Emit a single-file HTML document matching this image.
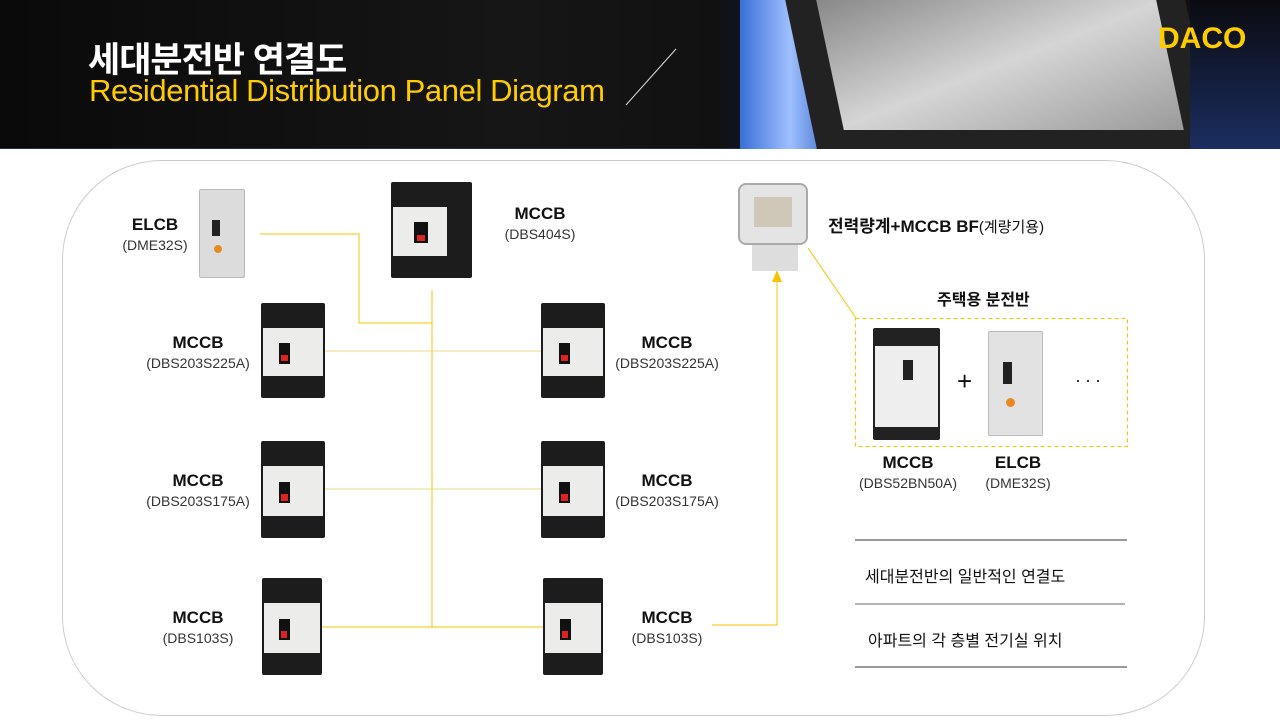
<!DOCTYPE html>
<html><head><meta charset="utf-8"><style>
*{margin:0;padding:0;box-sizing:border-box}
body{width:1280px;height:720px;background:#fff;position:relative;overflow:hidden;font-family:"Liberation Sans","Noto Sans CJK KR",sans-serif}
.a{position:absolute}
.hdr{left:0;top:0;width:1280px;height:149px;background:linear-gradient(90deg,#0a0a0a 0%,#161616 40%,#111 56%,#0d1830 60%,#2a5cc0 64%,#111 70%);border-bottom:1px solid #1e3050}
.lbl{position:absolute;text-align:center;color:#111}
.lbl b{display:block;font-size:17px;font-weight:bold}
.lbl span{display:block;font-size:14px;color:#333;margin-top:2px}
.brk{position:absolute;background:#1c1c1c;border-radius:2px}
.brk .m{position:absolute;left:2px;right:2px;top:26%;bottom:23%;background:#ececea}
.brk .h{position:absolute;left:28%;width:18%;top:42%;height:22%;background:#111}
.brk .h i{position:absolute;left:20%;right:20%;bottom:12%;height:30%;background:#d22}
.elcb{position:absolute;background:#dcdcdc;border:1px solid #bbb;border-radius:2px}
</style></head><body>
<div class="a hdr"></div>
<div class="a" style="left:740px;top:0;width:100px;height:149px;background:linear-gradient(90deg,#3a6fd8,#9fc0ff 50%,#2a5cc0)"></div>
<div class="a" style="left:800px;top:-10px;width:400px;height:159px;background:#222;transform:skewX(12deg)"></div>
<div class="a" style="left:830px;top:0;width:340px;height:130px;background:linear-gradient(160deg,#888 0%,#d5d5d5 50%,#9a9a9a 100%);transform:skewX(12deg)"></div>
<div class="a" style="left:1190px;top:0;width:90px;height:149px;background:linear-gradient(180deg,#0b0b10,#1b2e60)"></div>
<div class="a" style="left:88px;top:32px;color:#fff;font-size:35px;font-weight:bold;letter-spacing:-1px">세대분전반 연결도</div>
<div class="a" style="left:89px;top:73px;color:#ffcc00;font-size:31px;letter-spacing:-0.4px">Residential Distribution Panel Diagram</div>
<svg class="a" style="left:620px;top:45px" width="60" height="65"><line x1="56" y1="4" x2="6" y2="60" stroke="#ddd" stroke-width="1"/></svg>
<div class="a" style="left:1158px;top:22px;color:#ffcc00;font-size:30px;font-weight:bold">DACO</div>

<div class="a" style="left:62px;top:160px;width:1143px;height:556px;border:1px solid #ccc;border-radius:100px"></div>

<svg class="a" style="left:0;top:0" width="1280" height="720">
<g stroke="#f5c400" stroke-width="1" fill="none">
<polyline points="260,234 359,234 359,323 432,323"/>
<line x1="432" y1="290" x2="432" y2="627"/>
<line x1="325" y1="351" x2="541" y2="351" stroke="#e8d68a"/>
<line x1="325" y1="489" x2="541" y2="489" stroke="#e8d68a"/>
<line x1="322" y1="627" x2="543" y2="627"/>
<polyline points="712,625 777,625 777,280"/>
<line x1="808" y1="248" x2="856" y2="318"/>
<rect x="855.5" y="318.5" width="272" height="128" stroke-dasharray="4,3"/>
</g>
<polygon points="772,282 777,270 782,282" fill="#f5c400"/>
<line x1="855" y1="540" x2="1127" y2="540" stroke="#333"/>
<line x1="855" y1="604" x2="1125" y2="604" stroke="#666"/>
<line x1="855" y1="667" x2="1127" y2="667" stroke="#333"/>
</svg>

<div class="elcb" style="left:199px;top:189px;width:46px;height:89px"><div class="a" style="left:12px;top:30px;width:8px;height:16px;background:#222"></div><div class="a" style="left:14px;top:55px;width:8px;height:8px;border-radius:50%;background:#e88a20"></div></div>
<div class="lbl" style="left:110px;top:215px;width:90px"><b>ELCB</b><span>(DME32S)</span></div>

<div class="brk" style="left:391px;top:182px;width:81px;height:96px"><div class="m" style="right:25px"></div><div class="h"><i></i></div></div>
<div class="lbl" style="left:490px;top:204px;width:100px"><b>MCCB</b><span>(DBS404S)</span></div>

<div class="brk" style="left:261px;top:303px;width:64px;height:95px"><div class="m"></div><div class="h"><i></i></div></div>
<div class="brk" style="left:261px;top:441px;width:64px;height:97px"><div class="m"></div><div class="h"><i></i></div></div>
<div class="brk" style="left:262px;top:578px;width:60px;height:97px"><div class="m"></div><div class="h"><i></i></div></div>
<div class="lbl" style="left:128px;top:333px;width:140px"><b>MCCB</b><span>(DBS203S225A)</span></div>
<div class="lbl" style="left:128px;top:471px;width:140px"><b>MCCB</b><span>(DBS203S175A)</span></div>
<div class="lbl" style="left:148px;top:608px;width:100px"><b>MCCB</b><span>(DBS103S)</span></div>

<div class="brk" style="left:541px;top:303px;width:64px;height:95px"><div class="m"></div><div class="h"><i></i></div></div>
<div class="brk" style="left:541px;top:441px;width:64px;height:97px"><div class="m"></div><div class="h"><i></i></div></div>
<div class="brk" style="left:543px;top:578px;width:60px;height:97px"><div class="m"></div><div class="h"><i></i></div></div>
<div class="lbl" style="left:597px;top:333px;width:140px"><b>MCCB</b><span>(DBS203S225A)</span></div>
<div class="lbl" style="left:597px;top:471px;width:140px"><b>MCCB</b><span>(DBS203S175A)</span></div>
<div class="lbl" style="left:617px;top:608px;width:100px"><b>MCCB</b><span>(DBS103S)</span></div>

<div class="a" style="left:738px;top:183px;width:70px;height:62px;background:#e4e4e4;border:2px solid #aaa;border-radius:8px"><div class="a" style="left:14px;top:12px;width:38px;height:30px;background:#cfc8b8"></div></div>
<div class="a" style="left:752px;top:245px;width:46px;height:26px;background:#ddd"></div>
<div class="a" style="left:828px;top:212px;font-size:17px;font-weight:bold;color:#111">전력량계+MCCB BF<span style="font-weight:normal;font-size:15px">(계량기용)</span></div>

<div class="a" style="left:937px;top:286px;font-size:16px;font-weight:bold;color:#111">주택용 분전반</div>
<div class="brk" style="left:873px;top:328px;width:67px;height:112px;background:#222"><div class="m" style="top:16%;bottom:12%;background:#eee"></div><div class="a" style="left:30px;top:32px;width:10px;height:20px;background:#222"></div></div>
<div class="a" style="left:957px;top:366px;font-size:26px;color:#111">+</div>
<div class="elcb" style="left:988px;top:331px;width:55px;height:105px;background:#e2e2e2"><div class="a" style="left:14px;top:30px;width:9px;height:22px;background:#222"></div><div class="a" style="left:17px;top:66px;width:9px;height:9px;border-radius:50%;background:#e88a20"></div></div>
<div class="a" style="left:1075px;top:370px;font-size:18px;color:#111;letter-spacing:4px">···</div>
<div class="lbl" style="left:848px;top:453px;width:120px"><b>MCCB</b><span>(DBS52BN50A)</span></div>
<div class="lbl" style="left:968px;top:453px;width:100px"><b>ELCB</b><span>(DME32S)</span></div>

<div class="a" style="left:865px;top:563px;font-size:16px;color:#111">세대분전반의 일반적인 연결도</div>
<div class="a" style="left:868px;top:627px;font-size:16px;color:#111">아파트의 각 층별 전기실 위치</div>
</body></html>
